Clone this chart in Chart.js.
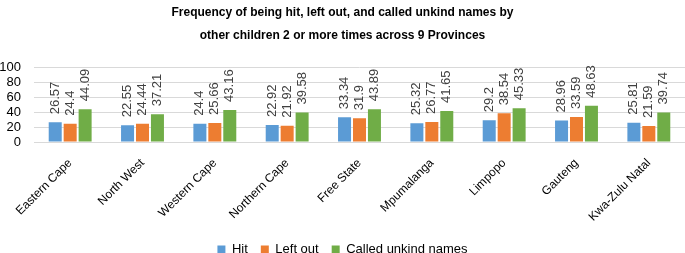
<!DOCTYPE html>
<html>
<head>
<meta charset="utf-8">
<script src="https://cdn.jsdelivr.net/npm/chart.js@4"></script>
<style>
  html, body { margin: 0; padding: 0; background: #fff; }
  #wrap { width: 685px; height: 253px; position: relative; }
</style>
</head>
<body>
<div id="wrap"><canvas id="grafico"></canvas></div>
<script>
// Datos
const provincias = ['Eastern Cape', 'North West', 'Western Cape', 'Northern Cape', 'Free State',
    'Mpumalanga', 'Limpopo', 'Gauteng', 'Kwa-Zulu Natal'];
const hit = [26.57, 22.55, 24.4, 22.92, 33.34, 25.32, 29.2, 28.96, 25.81];
const leftOut = [24.4, 24.44, 25.66, 21.92, 31.9, 26.77, 38.54, 33.59, 21.59];
const unkindNames = [44.09, 37.21, 43.16, 39.58, 43.89, 41.65, 45.33, 48.63, 39.74];
const yTicks = [0, 20, 40, 60, 80, 100];

const FONT = "'Liberation Sans', Arial, sans-serif";

// etiquetas verticales encima de cada barra
const etiquetas = {
    id: 'etiquetas',
    afterDatasetsDraw(chart) {
        const ctx = chart.ctx;
        ctx.save();
        ctx.font = '13px ' + FONT;
        ctx.fillStyle = '#404040';
        ctx.textAlign = 'left';
        ctx.textBaseline = 'middle';
        chart.data.datasets.forEach((ds, i) => {
            chart.getDatasetMeta(i).data.forEach((bar, j) => {
                ctx.save();
                ctx.translate(bar.x, bar.y - 8);
                ctx.rotate(-Math.PI / 2);
                ctx.fillText(String(ds.data[j]), 0, 0);
                ctx.restore();
            });
        });
        ctx.restore();
    }
};

new Chart(document.getElementById('grafico'), {
    type: 'bar',
    data: {
        labels: provincias,
        datasets: [
            { label: 'Hit', data: hit, backgroundColor: '#5b9bd5' },
            { label: 'Left out', data: leftOut, backgroundColor: '#ed7d31' },
            { label: 'Called unkind names', data: unkindNames, backgroundColor: '#70ad47' }
        ]
    },
    options: {
        responsive: true,
        maintainAspectRatio: false,
        animation: false,
        datasets: { bar: { categoryPercentage: 0.62, barPercentage: 0.87 } },
        layout: { padding: { top: 0, left: 0, right: 0, bottom: -13 } },
        plugins: {
            title: {
                display: true,
                text: ['Frequency of being hit, left out, and called unkind names by',
                       'other children 2 or more times across 9 Provinces'],
                font: { family: FONT, size: 12, weight: 'bold', lineHeight: 1.9 },
                color: '#000',
                padding: { top: 1, bottom: 21 }
            },
            legend: {
                position: 'bottom',
                labels: {
                    font: { family: FONT, size: 13 },
                    color: '#000',
                    boxWidth: 8,
                    boxHeight: 8,
                    padding: 13
                }
            },
            tooltip: { enabled: false }
        },
        scales: {
            x: {
                grid: { display: false },
                border: { color: '#d9d9d9' },
                afterFit: axis => { axis.height = 88; },
                ticks: {
                    font: { family: FONT, size: 12 },
                    color: '#000',
                    maxRotation: 45,
                    minRotation: 45,
                    autoSkip: false,
                    padding: 6
                }
            },
            y: {
                min: 0,
                max: 100,
                afterBuildTicks: axis => { axis.ticks = yTicks.map(v => ({ value: v })); },
                afterFit: axis => { axis.width = 34; },
                grid: { color: '#d9d9d9', drawTicks: false },
                border: { display: false },
                ticks: {
                    font: { family: FONT, size: 13 },
                    color: '#000',
                    autoSkip: false,
                    padding: 13
                }
            }
        }
    },
    plugins: [etiquetas]
});
</script>
</body>
</html>
